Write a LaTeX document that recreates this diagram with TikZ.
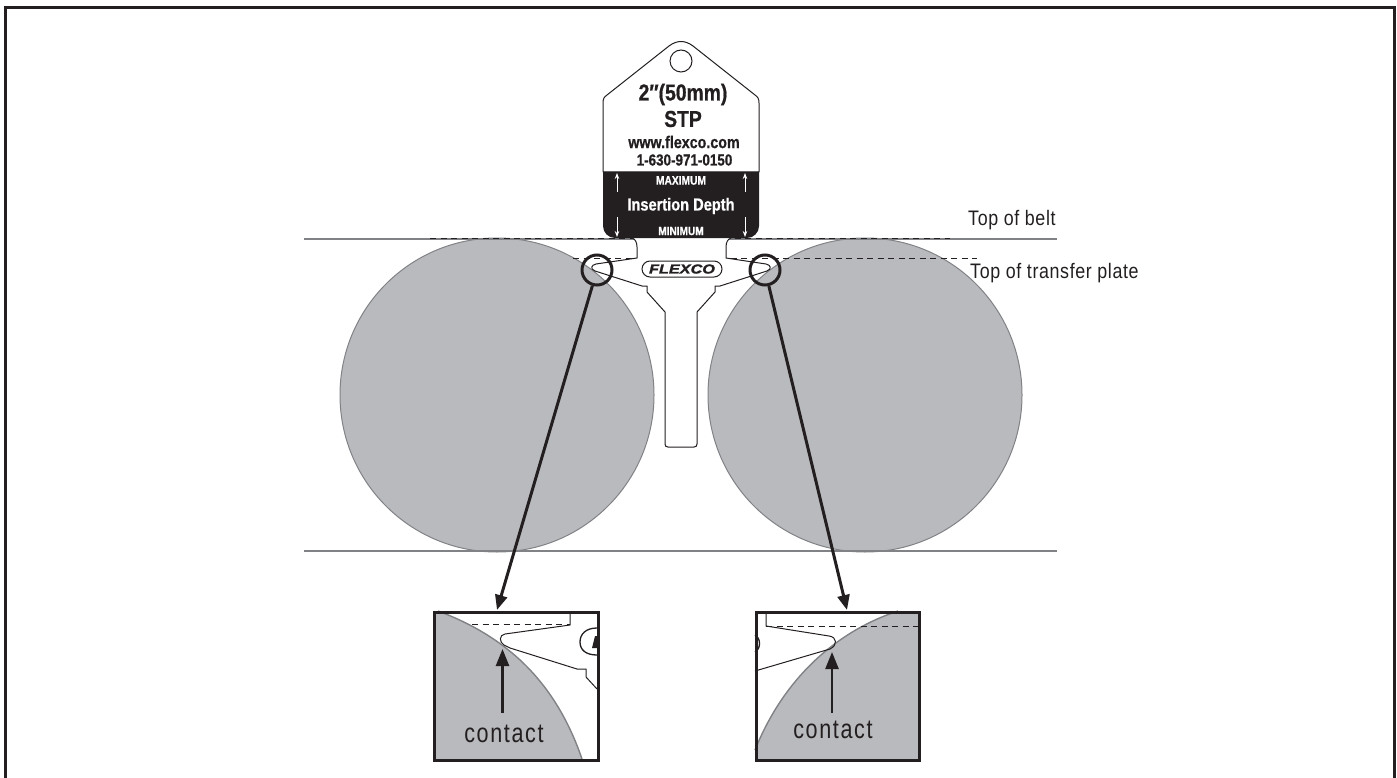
\documentclass[tikz,border=0pt]{standalone}
\usepackage{fontspec}
\setmainfont{Liberation Sans}
\newfontfamily\condfont[FakeStretch=0.85,LetterSpace=3]{Liberation Sans}
\newfontfamily\contactfont[FakeStretch=0.80,LetterSpace=6]{Liberation Sans}
\newfontfamily\tagfont[FakeStretch=0.84,BoldFeatures={FakeBold=0.7}]{Liberation Sans}
\newfontfamily\logofont[FakeStretch=1.25,BoldItalicFeatures={FakeBold=1.5}]{Liberation Sans}
\usetikzlibrary{arrows.meta}
\definecolor{inkc}{HTML}{231F20}
\definecolor{rollfill}{HTML}{B9BABD}
\definecolor{rollline}{HTML}{808285}
\tikzset{
  frameline/.style={draw=inkc,line width=3pt},
  roller/.style={draw=rollline,fill=rollfill,line width=1pt},
  belt/.style={draw=rollline,line width=1.3pt},
  dashline/.style={draw=inkc,line width=1pt,dash pattern=on 6pt off 4.5pt},
  outlinepart/.style={draw=inkc,line width=1pt,line join=round},
  loupe/.style={circle,draw=inkc,line width=3pt,minimum size=30pt,inner sep=0pt},
  pointer/.style={draw=inkc,line width=3pt,-{Triangle[length=15pt,width=12pt]}},
  inarrow/.style={draw=inkc,line width=2.5pt,-{Triangle[length=17pt,width=13pt]}},
  whitearrow/.style={draw=white,line width=0.8pt,-{Stealth[length=6pt,width=4.5pt]}},
  insetbox/.style={draw=inkc,line width=2.5pt,inner sep=0pt,anchor=north west,minimum width=164pt,minimum height=148pt},
  tagtext/.style={text=inkc,inner sep=0pt,font=\tagfont\bfseries},
  tagwhite/.style={text=white,inner sep=0pt,font=\tagfont\bfseries},
  sidelabel/.style={text=inkc,inner sep=0pt,anchor=west,font=\condfont\fontsize{21}{23}\selectfont},
  contactlabel/.style={text=inkc,inner sep=0pt,font=\contactfont\fontsize{27}{29}\selectfont},
}
\begin{document}
\begin{tikzpicture}[x=1pt,y=-1pt]
\useasboundingbox (0,0) rectangle (1397,778);
\draw[frameline] (5.5,778) -- (5.5,7.5) -- (1394.5,7.5) -- (1394.5,778);
% rollers and belt
\node[roller,circle,minimum size=314pt,inner sep=0pt] (rollL) at (497,395) {};
\node[roller,circle,minimum size=314pt,inner sep=0pt] (rollR) at (865,395) {};
\coordinate (beltTL) at (304,239); \coordinate (beltTR) at (1057,239);
\coordinate (beltBL) at (304,551); \coordinate (beltBR) at (1057,551);
\draw[belt] (beltTL) -- (beltTR);
\draw[belt] (beltBL) -- (beltBR);
\draw[dashline] (430,238.5) -- (950,238.5);
\draw[dashline] (573,258) -- (977,258);
% splice body
\draw[outlinepart,fill=white] (632,238) .. controls (635,239) and (637,242) .. (637,247) -- (637,258)
  -- (596,264) .. controls (591,265) and (590,269) .. (595,271) -- (642,286) -- (647,286) -- (647,292) -- (665,312)
  -- (665,444) .. controls (665,446) and (666,447) .. (668,447) -- (694,447) .. controls (696,447) and (697,446) .. (697,444)
  -- (697,312) -- (715,292) -- (715,286) -- (720,286) -- (767,271) .. controls (772,269) and (771,265) .. (766,264)
  -- (726,258) -- (726,247) .. controls (726,242) and (728,239) .. (731,238);
% tag
\draw[outlinepart,fill=white] (603,172) -- (603,103) .. controls (603,99) and (604,97) .. (607,95)
  -- (669,46) .. controls (677,40) and (685,40) .. (693,46) -- (755,95) .. controls (758,97) and (759,99) .. (759,103) -- (759,172) -- cycle;
\fill[inkc] (603,172) -- (759,172) -- (759,226) arc[start angle=0,end angle=90,radius=12] -- (615,238) arc[start angle=90,end angle=180,radius=12] -- cycle;
\node[circle,draw=inkc,line width=1pt,minimum size=22pt,inner sep=0pt] (hole) at (681,61) {};
\node[tagtext,font=\tagfont\bfseries\fontsize{23}{25}\selectfont] (size) at (683,94.5) {2″(50mm)};
\node[tagtext,font=\tagfont\bfseries\fontsize{23}{25}\selectfont] (stp) at (683,119) {STP};
\node[tagtext,font=\tagfont\bfseries\fontsize{17}{19}\selectfont] (web) at (684,142) {www.flexco.com};
\node[tagtext,font=\tagfont\bfseries\fontsize{16}{18}\selectfont] (phone) at (684.5,160) {1-630-971-0150};
\node[tagwhite,font=\tagfont\bfseries\fontsize{12.2}{14}\selectfont] (maxi) at (681,180.5) {MAXIMUM};
\node[tagwhite,font=\tagfont\bfseries\fontsize{17.4}{19}\selectfont] (depth) at (681,206) {Insertion Depth};
\node[tagwhite,font=\tagfont\bfseries\fontsize{12}{14}\selectfont] (mini) at (681,231) {MINIMUM};
\coordinate (a1) at (617,192); \coordinate (a2) at (617,173);
\coordinate (a3) at (745,192); \coordinate (a4) at (745,173);
\coordinate (a5) at (617,217); \coordinate (a6) at (617,237);
\coordinate (a7) at (745,217); \coordinate (a8) at (745,237);
\draw[whitearrow] (a1) -- (a2); \draw[whitearrow] (a3) -- (a4);
\draw[whitearrow] (a5) -- (a6); \draw[whitearrow] (a7) -- (a8);
% logo
\node[draw=inkc,line width=1pt,rounded corners=8pt,minimum width=80pt,minimum height=16pt,inner sep=0pt] (logo) at (682,269) {};
\node[text=inkc,inner sep=0pt,font=\logofont\bfseries\itshape\fontsize{13}{14}\selectfont] (logotext) at (682,269) {FLEXCO};
% loupes and pointers
\node[loupe] (loupeL) at (597,270) {};
\node[loupe] (loupeR) at (765,270) {};
\coordinate (tipL) at (497,610);
\coordinate (tipR) at (847,610);
\draw[pointer] (loupeL) -- (tipL);
\draw[pointer] (loupeR) -- (tipR);
% left inset
\fill[rollfill] (438,611) .. controls (505,636) and (555,680) .. (582,759) -- (433,759) -- (433,611) -- cycle;
\draw[rollline,line width=1.4pt] (438,611) .. controls (505,636) and (555,680) .. (582,759);
\draw[dashline] (472,624.5) -- (570,624.5);
\draw[outlinepart] (570,611) -- (570,625) -- (505,634) .. controls (499,635) and (499,642) .. (504,645) -- (510,648) -- (577,669) -- (586,669) -- (586,677) -- (597,689);
\draw[outlinepart,line width=1.3pt] (597,628) .. controls (586,628) and (580,634) .. (580,642) .. controls (580,650) and (586,655) .. (597,655);
\fill[inkc] (592,648) -- (595,636) -- (597,636) -- (597,648) -- cycle;
\node[insetbox] (boxL) at (433,611) {};
\coordinate (contactL) at (502.5,649);
\coordinate (startL) at (502.5,713);
\draw[inarrow] (startL) -- (contactL);
\node[contactlabel] (textL) at (504,734) {contact};
% right inset
\fill[rollfill] (898,611) .. controls (840,630) and (785,675) .. (755,750) -- (755,759) -- (918,759) -- (918,611) -- cycle;
\draw[rollline,line width=1.4pt] (898,611) .. controls (840,630) and (785,675) .. (755,750);
\draw[outlinepart] (766,611) -- (766,626) -- (829,636) .. controls (837,637) and (838,645) .. (830,649) -- (755,671);
\draw[dashline] (766,626) -- (918,626);
\draw[outlinepart,line width=1.3pt] (755,635) .. controls (761,638) and (761,649) .. (755,652);
\node[insetbox,minimum width=163pt] (boxR) at (755,611) {};
\coordinate (contactR) at (832,652);
\coordinate (startR) at (832,713);
\draw[inarrow] (startR) -- (contactR);
\node[contactlabel] (textR) at (833,730) {contact};
% labels
\node[sidelabel] (lblbelt) at (968,220) {Top of belt};
\node[sidelabel] (lblplate) at (970,273) {Top of transfer plate};
\end{tikzpicture}
\end{document}
